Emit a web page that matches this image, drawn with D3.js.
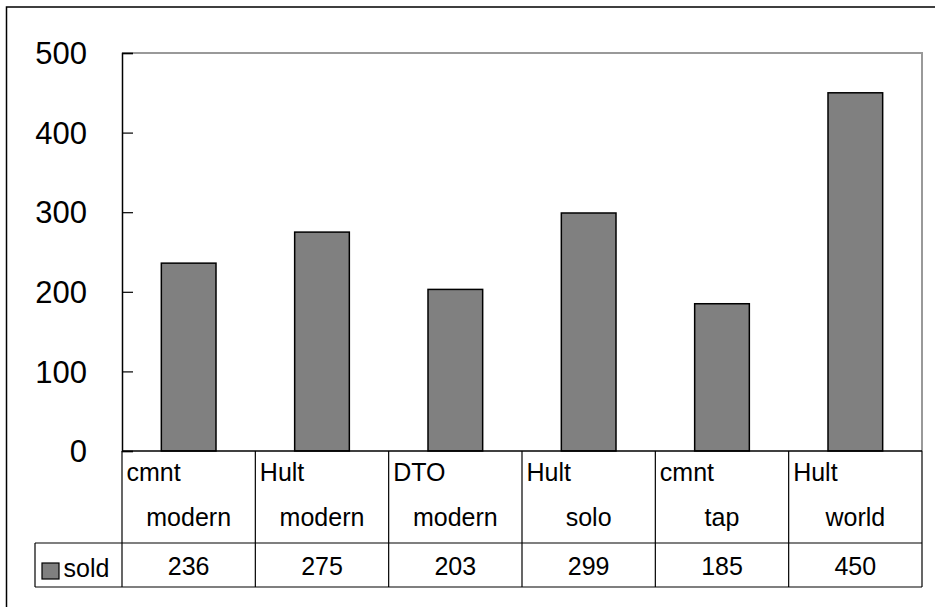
<!DOCTYPE html>
<html>
<head>
<meta charset="utf-8">
<script src="https://cdn.jsdelivr.net/npm/d3@7"></script>
<style>
  html, body { margin: 0; padding: 0; background: #fff; }
  svg { display: block; }
  text { font-family: "Liberation Sans", Arial, sans-serif; fill: #000; }
</style>
</head>
<body>
<svg id="chart" width="935" height="607"></svg>
<script>
const categoriesTop = ["cmnt", "Hult", "DTO", "Hult", "cmnt", "Hult"];
const categoriesBottom = ["modern", "modern", "modern", "solo", "tap", "world"];
const soldValues = [236, 275, 203, 299, 185, 450];
const yTicks = [0, 100, 200, 300, 400, 500];
const seriesName = "sold";

const svg = d3.select("#chart");
const plot = { left: 122, right: 922, top: 53, bottom: 451 };
const table = { legendLeft: 35, headerBottom: 543, rowBottom: 587 };

// outer frame (extends past right and bottom edges)
svg.append("rect")
  .attr("x", 6.5).attr("y", 7).attr("width", 1000).attr("height", 1000)
  .attr("fill", "none").attr("stroke", "#000").attr("stroke-width", 1.5);

const idx = d3.range(soldValues.length);
const x = d3.scaleBand().domain(idx).range([plot.left, plot.right]).padding(0);
const y = d3.scaleLinear().domain([0, 500]).range([plot.bottom, plot.top]);

// plot border: top & right gray
svg.append("path")
  .attr("d", `M${plot.left},${plot.top}H${plot.right}V${plot.bottom}`)
  .attr("fill", "none").attr("stroke", "#999").attr("stroke-width", 2);

// bars
const barW = x.bandwidth() * 0.41;
svg.selectAll("rect.bar").data(soldValues).enter().append("rect")
  .attr("class", "bar")
  .attr("x", (d, i) => x(i) + (x.bandwidth() - barW) / 2)
  .attr("y", d => y(d))
  .attr("width", barW)
  .attr("height", d => y(0) - y(d))
  .attr("fill", "#808080").attr("stroke", "#000").attr("stroke-width", 1.5);

// y axis (inner ticks)
const yAxis = d3.axisRight(y).tickValues(yTicks).tickSize(11).tickFormat("");
const yg = svg.append("g").attr("transform", `translate(${plot.left},0)`).call(yAxis);
yg.select(".domain").attr("stroke", "#000").attr("stroke-width", 1.5);
yg.selectAll(".tick line").attr("stroke", "#000").attr("stroke-width", 1.2);

svg.selectAll("text.ylab").data(yTicks).enter().append("text")
  .attr("class", "ylab")
  .attr("x", 87).attr("y", d => y(d))
  .attr("dy", "0.36em")
  .attr("text-anchor", "end")
  .attr("font-size", 31)
  .text(d => d);

// data table lines
const tg = svg.append("g").attr("stroke", "#000").attr("stroke-width", 1.2).attr("fill", "none");
tg.append("line").attr("x1", plot.left).attr("x2", plot.right).attr("y1", plot.bottom).attr("y2", plot.bottom).attr("stroke-width", 1.5);
tg.append("line").attr("x1", table.legendLeft).attr("x2", plot.right).attr("y1", table.headerBottom).attr("y2", table.headerBottom);
tg.append("line").attr("x1", table.legendLeft).attr("x2", plot.right).attr("y1", table.rowBottom).attr("y2", table.rowBottom);
tg.append("line").attr("x1", table.legendLeft).attr("x2", table.legendLeft).attr("y1", table.headerBottom).attr("y2", table.rowBottom);
const vlines = idx.map(i => x(i)).concat([plot.right]);
tg.selectAll("line.v").data(vlines).enter().append("line")
  .attr("class", "v")
  .attr("x1", d => d).attr("x2", d => d)
  .attr("y1", plot.bottom).attr("y2", table.rowBottom);

// category labels
svg.selectAll("text.cat1").data(categoriesTop).enter().append("text")
  .attr("class", "cat1")
  .attr("x", (d, i) => x(i) + 4.5).attr("y", 480.5)
  .attr("font-size", 25)
  .text(d => d);
svg.selectAll("text.cat2").data(categoriesBottom).enter().append("text")
  .attr("class", "cat2")
  .attr("x", (d, i) => x(i) + x.bandwidth() / 2).attr("y", 526)
  .attr("text-anchor", "middle")
  .attr("font-size", 25)
  .text(d => d);

// values row
svg.selectAll("text.val").data(soldValues).enter().append("text")
  .attr("class", "val")
  .attr("x", (d, i) => x(i) + x.bandwidth() / 2).attr("y", 575)
  .attr("text-anchor", "middle")
  .attr("font-size", 25)
  .text(d => d);

// legend key
svg.append("rect")
  .attr("x", 42).attr("y", 563).attr("width", 17).attr("height", 16)
  .attr("fill", "#808080").attr("stroke", "#000").attr("stroke-width", 1.2);
svg.append("text")
  .attr("x", 63.5).attr("y", 576.5)
  .attr("font-size", 25)
  .text(seriesName);
</script>
</body>
</html>
